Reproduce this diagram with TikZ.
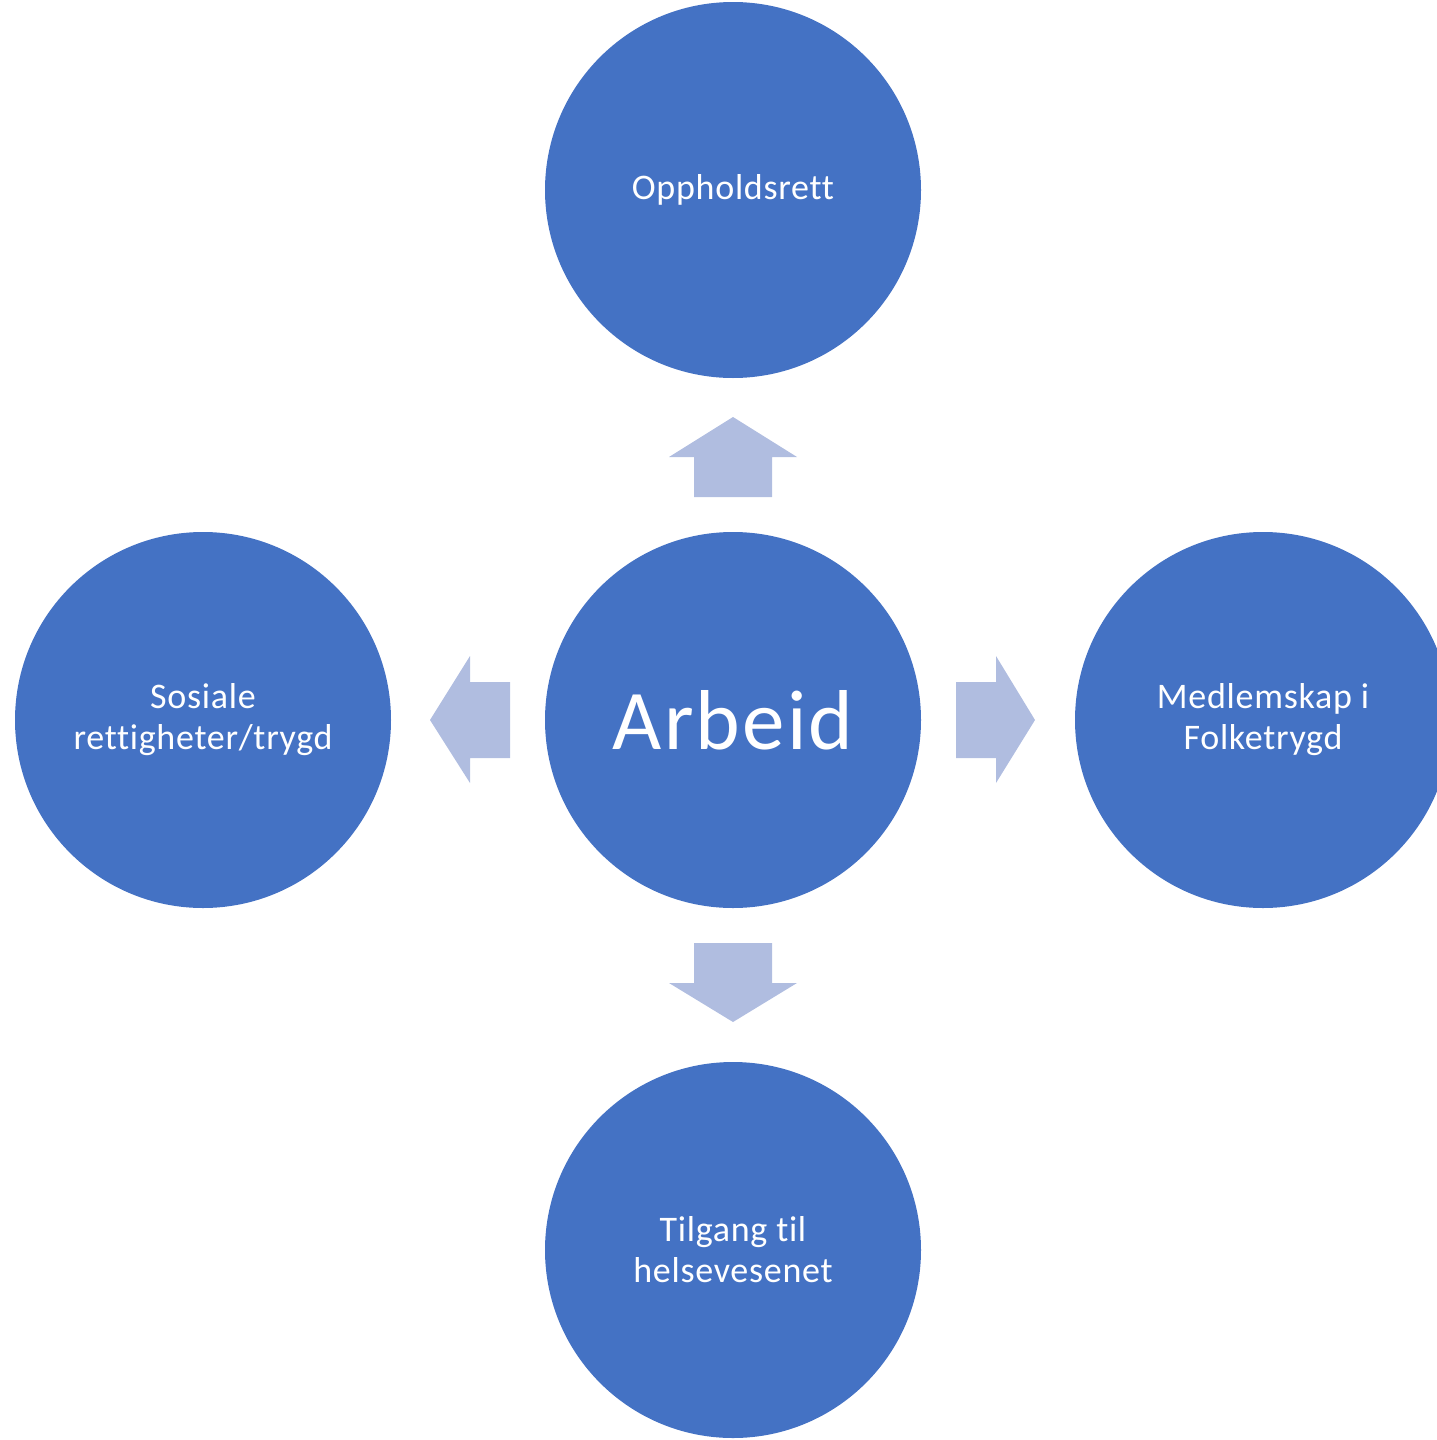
\documentclass[tikz,border=0pt]{standalone}
\usepackage{fontspec}
\setmainfont{Carlito}[Ligatures=NoCommon]
\newfontfamily\labelfont{Carlito}[Ligatures=NoCommon,LetterSpace=2]
\newfontfamily\bigfont{Carlito}[Ligatures=NoCommon,LetterSpace=2.5]
\definecolor{circblue}{HTML}{4472C4}
\definecolor{arrblue}{HTML}{B0BDE0}
\begin{document}
\begin{tikzpicture}[x=1pt,y=-1pt,
  circ/.style={circle,fill=circblue,minimum size=376pt,inner sep=0pt,text=white,align=center,
    font=\labelfont\fontsize{36}{41}\selectfont},
  blockarrow/.style={fill=arrblue,draw=none}]
\useasboundingbox (0,0) rectangle (1437,1440);
\clip (0,0) rectangle (1437,1440);
\node[circ,font=\bigfont\fontsize{85}{100}\selectfont] (c) at (733,720) {Arbeid};
\node[circ] (t) at (733,190) {Oppholdsrett};
\node[circ] (l) at (203,720) {Sosiale\\rettigheter/trygd};
\node[circ] (r) at (1263,720) {Medlemskap i\\Folketrygd};
\node[circ] (b) at (733,1250) {Tilgang til\\helsevesenet};
% up arrow
\fill[blockarrow] (694,497) -- (694,457) -- (669,457) -- (733,417) -- (797,457) -- (772,457) -- (772,497) -- cycle;
% down arrow
\fill[blockarrow] (694,943) -- (694,983) -- (669,983) -- (733,1022) -- (797,983) -- (772,983) -- (772,943) -- cycle;
% left arrow
\fill[blockarrow] (510,682) -- (470,682) -- (470,656) -- (430,720) -- (470,783) -- (470,758) -- (510,758) -- cycle;
% right arrow
\fill[blockarrow] (956,682) -- (996,682) -- (996,656) -- (1035,720) -- (996,783) -- (996,758) -- (956,758) -- cycle;
\end{tikzpicture}
\end{document}
